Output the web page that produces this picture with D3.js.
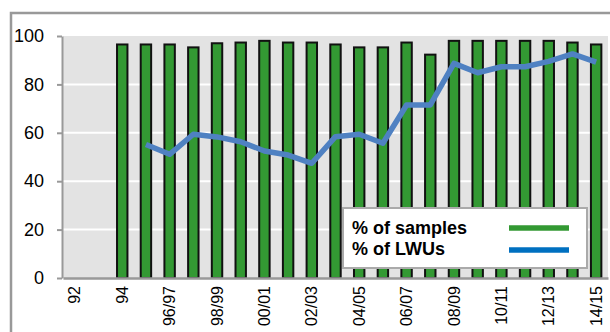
<!DOCTYPE html>
<html><head><meta charset="utf-8">
<script src="https://cdn.jsdelivr.net/npm/d3@7"></script>
<style>body{margin:0;background:#fff}svg{display:block}</style>
</head><body><svg id="c" width="610" height="332"></svg>
<script>
const categories = ["92","93","94","95","96/97","97/98","98/99","99/00","00/01","01/02","02/03","03/04","04/05","05/06","06/07","07/08","08/09","09/10","10/11","11/12","12/13","13/14","14/15"];
const samples = [null,null,96.5,96.5,96.5,95.3,97,97.3,98,97.3,97.3,96.5,95.3,95.3,97.3,92.3,98,98,98,98,98,97.3,96.5];
const lwus = [null,null,null,55.2,51.1,59.4,58.3,56.3,52.5,50.8,47.4,58.4,59.4,55.7,71.5,71.5,88.7,84.8,87.3,87.3,89.5,92.6,89.2];
const yTicks = [0,20,40,60,80,100];
const xLabels = ["92","94","96/97","98/99","00/01","02/03","04/05","06/07","08/09","10/11","12/13","14/15"];
const seriesNames = ["% of samples","% of LWUs"];

const svg = d3.select("#c");
const L=63, R=608, T=36, B=278;
const x = d3.scaleBand().domain(categories).range([L,R]).paddingInner(0.56).paddingOuter(0.28);
const y = d3.scaleLinear().domain([0,100]).range([B,T]);
const xc = d => x(d)+x.bandwidth()/2;

// outer frame
svg.append("path").attr("d",`M11,335 L11,13 L612,13`).attr("fill","none").attr("stroke","#999").attr("stroke-width",2.5);

// plot bg
svg.append("rect").attr("x",L).attr("y",T).attr("width",R-L).attr("height",B-T).attr("fill","#e3e3e3");
// gridlines
svg.append("g").selectAll("line").data(yTicks.filter(t=>t>0&&t<100)).join("line")
  .attr("x1",L).attr("x2",R).attr("y1",d=>y(d)).attr("y2",d=>y(d)).attr("stroke","#fff").attr("stroke-width",2);

// bars
svg.append("g").selectAll("rect").data(categories.map((c,i)=>({c,v:samples[i]})).filter(d=>d.v!=null)).join("rect")
  .attr("x",d=>x(d.c)).attr("y",d=>y(d.v)).attr("width",x.bandwidth()).attr("height",d=>B-y(d.v))
  .attr("fill","#339933").attr("stroke","#111").attr("stroke-width",2);

// line
const pts = categories.map((c,i)=>({c,v:lwus[i]})).filter(d=>d.v!=null);
svg.append("path").datum(pts).attr("d",d3.line().x(d=>xc(d.c)).y(d=>y(d.v)))
  .attr("fill","none").attr("stroke","#4f81c2").attr("stroke-width",5.5).attr("stroke-linejoin","round");

// y axis
const ya = svg.append("g").attr("transform",`translate(${L-1},0)`).call(d3.axisLeft(y).tickValues(yTicks).tickSize(5).tickSizeOuter(0));
ya.select(".domain").attr("stroke","#999").attr("stroke-width",2);
ya.selectAll(".tick line").attr("stroke","#999").attr("stroke-width",2);
ya.selectAll(".tick text").attr("x",-18).attr("font-family","Liberation Sans, Arial, sans-serif").attr("font-size",18).attr("fill","#000");

// x axis
const xa = svg.append("g").attr("transform",`translate(0,${B})`).call(d3.axisBottom(x).tickValues(xLabels).tickSize(0).tickSizeOuter(0));
xa.select(".domain").attr("stroke","#999").attr("stroke-width",2.5);
xa.selectAll(".tick text").attr("transform","rotate(-90)").attr("text-anchor","end").attr("x",-8).attr("y",0).attr("dy","0.35em")
  .attr("font-family","Liberation Sans, Arial, sans-serif").attr("font-size",16).attr("fill","#000");

// legend
const lg = svg.append("g");
lg.append("rect").attr("x",343).attr("y",208).attr("width",244).attr("height",60).attr("fill","#fff").attr("stroke","#aaa").attr("stroke-width",2);
const lc = ["#339933","#0070c0"];
seriesNames.forEach((n,i)=>{
  lg.append("text").attr("x",352).attr("y",233.5+i*21).text(n).attr("font-family","Liberation Sans, Arial, sans-serif").attr("font-weight","bold").attr("font-size",18).attr("fill","#000");
  lg.append("line").attr("x1",509).attr("x2",569).attr("y1",228+i*22).attr("y2",228+i*22).attr("stroke",lc[i]).attr("stroke-width",5.5);
});
</script></body></html>
